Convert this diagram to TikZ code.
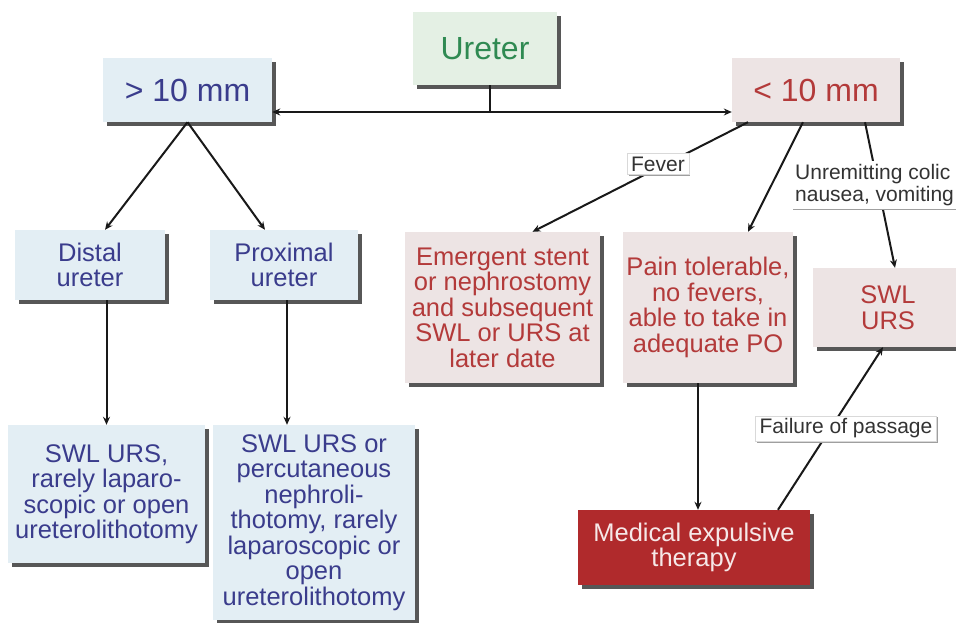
\documentclass[tikz,border=0pt]{standalone}
\usepackage{fontspec}
\setmainfont{Liberation Sans}
\usetikzlibrary{arrows.meta,shadows}
\definecolor{bluefill}{HTML}{E3EEF4}
\definecolor{bluetext}{HTML}{3A3C8C}
\definecolor{greenfill}{HTML}{E4F0E4}
\definecolor{greentext}{HTML}{2F8A52}
\definecolor{pinkfill}{HTML}{EDE4E4}
\definecolor{redtext}{HTML}{B33A3A}
\definecolor{metfill}{HTML}{B02A2C}
\definecolor{mettext}{HTML}{F6E8E8}
\definecolor{shadowc}{HTML}{575757}
\definecolor{lbltext}{HTML}{333333}
\begin{document}
\begin{tikzpicture}[x=1pt,y=-1pt,
  box/.style={inner sep=0pt, align=center,
    drop shadow={shadow xshift=4pt,shadow yshift=-4pt,fill=shadowc,opacity=1}},
  bluebox/.style={box, fill=bluefill, text=bluetext},
  pinkbox/.style={box, fill=pinkfill, text=redtext},
  greenbox/.style={box, fill=greenfill, text=greentext},
  metbox/.style={box, fill=metfill, text=mettext},
  big/.style={font=\fontsize{32}{36}\selectfont},
  mid/.style={font=\fontsize{25.5}{25.5}\selectfont},
  tip/.style={-{Stealth[length=8pt,width=7pt]}},
  conn/.style={line width=2pt, draw=black!90, tip},
  plain/.style={line width=2pt, draw=black!90},
  lbl/.style={fill=white, draw=gray!30, text=lbltext, inner xsep=4pt, inner ysep=3pt,
    font=\fontsize{21}{22}\selectfont,
    drop shadow={shadow xshift=1.5pt,shadow yshift=-1.5pt,fill=gray!75,opacity=1}}
]
\fill[white] (0,0) rectangle (956,623);
\useasboundingbox (0,0) rectangle (956,623);

% main boxes
\node[greenbox,big,minimum width=144pt,minimum height=73pt] (ureter) at (485,48.5) {Ureter};
\node[bluebox,big,minimum width=169pt,minimum height=64pt] (gt) at (187.5,90) {> 10 mm};
\node[pinkbox,big,minimum width=168pt,minimum height=64pt] (lt) at (816,90) {< 10 mm};

\node[bluebox,mid,minimum width=150pt,minimum height=70pt] (distal) at (90,265) {Distal\\ureter};
\node[bluebox,mid,minimum width=148pt,minimum height=70pt] (prox) at (284,265) {Proximal\\ureter};

\node[bluebox,mid,minimum width=197pt,minimum height=138pt] (bl1) at (106.5,494)
  {SWL URS,\\rarely laparo-\\scopic or open\\ureterolithotomy};
\node[bluebox,mid,minimum width=202pt,minimum height=195pt] (bl2) at (314,522.5)
  {SWL URS or\\percutaneous\\nephroli-\\thotomy, rarely\\laparoscopic or\\open\\ureterolithotomy};

\node[pinkbox,mid,minimum width=195pt,minimum height=151pt] (emerg) at (502.5,307.5)
  {Emergent stent\\or nephrostomy\\and subsequent\\SWL or URS at\\later date};
\node[pinkbox,mid,minimum width=170pt,minimum height=151pt] (pain) at (708,307.5)
  {Pain tolerable,\\no fevers,\\able to take in\\adequate PO};
\node[pinkbox,mid,minimum width=150pt,minimum height=79pt] (swl) at (888,307.5) {SWL\\URS};
\node[metbox,mid,minimum width=232pt,minimum height=75pt] (met) at (694,547.5)
  {Medical expulsive\\therapy};

% connectors
\coordinate (hj) at (490,112);
\draw[plain] (hj |- ureter.south) -- (hj);
\draw[plain,{Stealth[length=8pt,width=7pt]}-{Stealth[length=8pt,width=7pt]}] (gt.east |- hj) -- (lt.west |- hj);

\draw[conn] (gt.south) -- ([xshift=15pt]distal.north);
\draw[conn] (gt.south) -- ([xshift=-19pt]prox.north);
\draw[conn] (bl1.north |- distal.south) -- (bl1.north);
\draw[conn] ([xshift=3pt]prox.south) -- ([xshift=3pt]prox.south |- bl2.north);

\draw[conn] ([xshift=-68pt]lt.south) -- ([xshift=30pt]emerg.north);
\draw[conn] ([xshift=-13pt]lt.south) -- ([xshift=40pt]pain.north);
\draw[conn] ([xshift=49pt]lt.south) -- ([xshift=7pt]swl.north);
\draw[conn] ([xshift=-10pt]pain.south) -- ([xshift=-10pt]pain.south |- met.north);
\draw[conn] ([xshift=84pt]met.north) -- ([xshift=-5pt]swl.south);

% labels
\node[lbl] (fever) at (658,164) {Fever};
\node[lbl,anchor=west,align=left,draw=none] (unrem) at (791,185) {Unremitting colic\\nausea, vomiting};
\node[lbl] (fail) at (846,428.5) {Failure of passage};
\end{tikzpicture}
\end{document}
